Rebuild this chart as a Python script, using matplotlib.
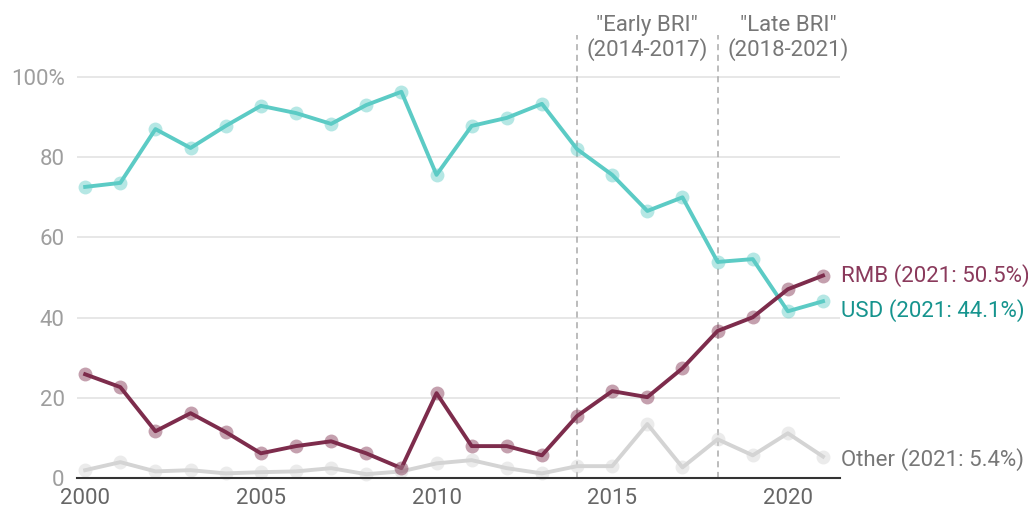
import matplotlib.pyplot as plt

years = list(range(2000, 2022))
usd = [72.6, 73.6, 87.0, 82.3, 87.8, 92.8, 91.0, 88.3, 93.0, 96.3, 75.6,
       87.8, 89.8, 93.3, 82.0, 75.6, 66.6, 70.0, 53.9, 54.6, 41.6, 44.1]
rmb = [25.9, 22.7, 11.7, 16.2, 11.5, 6.2, 8.0, 9.2, 6.2, 2.5, 21.2,
       8.0, 8.0, 5.7, 15.5, 21.7, 20.2, 27.4, 36.7, 40.1, 47.1, 50.5]
other = [2.0, 4.0, 1.7, 2.0, 1.2, 1.5, 1.7, 2.5, 1.0, 1.7, 3.7,
         4.5, 2.5, 1.2, 3.0, 3.0, 13.5, 2.7, 9.7, 5.7, 11.2, 5.4]
y_ticks = [0, 20, 40, 60, 80, 100]
y_labels = ['0', '20', '40', '60', '80', '100%']
x_ticks = [2000, 2005, 2010, 2015, 2020]
periods = [('"Early BRI"\n(2014-2017)', 2016), ('"Late BRI"\n(2018-2021)', 2020)]
period_lines = [2014, 2018]

plt.rcParams['font.family'] = ['Roboto', 'DejaVu Sans']

fig = plt.figure(figsize=(10.28, 5.12), dpi=100)
ax = fig.add_axes([0.075, 0.066, 0.742, 0.866])

series = [
    (other, '#d4d4d4', '#d4d4d4'),
    (usd, '#5ccbc5', '#5ccbc5'),
    (rmb, '#7d2c4c', '#7d2c4c'),
]
for vals, lc, mc in series:
    ax.plot(years, vals, color=lc, lw=2.8, zorder=3, clip_on=False)
    ax.plot(years, vals, 'o', color=mc, ms=10, alpha=0.45, mew=0,
            zorder=4, clip_on=False)

ax.set_xlim(1999.77, 2021.48)
ax.set_ylim(0, 110.5)

for x in period_lines:
    ax.axvline(x, color='#aaaaaa', lw=1.1, ls=(0, (4, 3)), zorder=2)
for txt, x in periods:
    ax.text(x, 104.0, txt, ha='center', va='bottom', fontsize=16,
            color='#777777', linespacing=1.1, zorder=6)

# end labels
ax.text(2021.52, 50.5, 'RMB (2021: 50.5%)', color='#8a3a5c', fontsize=16,
        va='center', ha='left', clip_on=False)
ax.text(2021.52, 41.7, 'USD (2021: 44.1%)', color='#16948e', fontsize=16,
        va='center', ha='left', clip_on=False)
ax.text(2021.52, 4.7, 'Other (2021: 5.4%)', color='#777777', fontsize=16,
        va='center', ha='left', clip_on=False)

ax.set_yticks(y_ticks)
ax.set_yticklabels(y_labels)
ax.set_xticks(x_ticks)
ax.tick_params(axis='both', length=0, labelsize=16)
ax.tick_params(axis='y', colors='#9e9e9e', pad=9)
ax.tick_params(axis='x', colors='#666666', pad=7)
ax.grid(axis='y', color='#e3e3e3', lw=1.2, zorder=0)
for s in ['top', 'right', 'left']:
    ax.spines[s].set_visible(False)
ax.spines['bottom'].set_color('#333333')
ax.spines['bottom'].set_linewidth(1.5)
ax.spines['bottom'].set_zorder(5)

fig.savefig('out.png', dpi=100)
